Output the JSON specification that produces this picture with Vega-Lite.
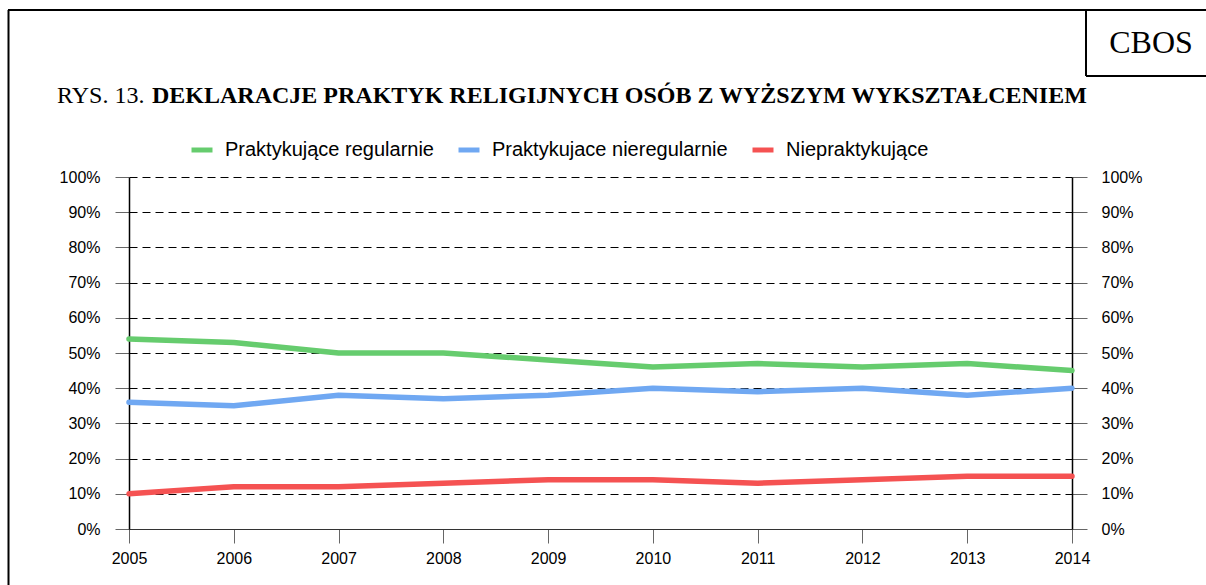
{
  "$schema": "https://vega.github.io/schema/vega-lite/v6.json",
  "width": 943,
  "height": 352,
  "autosize": {"type": "none"},
  "padding": {"left": 129, "top": 177, "right": 134, "bottom": 56},
  "background": "white",
  "config": {
    "view": {"stroke": null},
    "font": "Liberation Sans",
    "axis": {"labelFont": "Liberation Sans", "labelColor": "#000000"}
  },
  "datasets": {
    "series": [
      {"year": 2005, "series": "Praktykujące regularnie", "value": 54},
      {"year": 2006, "series": "Praktykujące regularnie", "value": 53},
      {"year": 2007, "series": "Praktykujące regularnie", "value": 50},
      {"year": 2008, "series": "Praktykujące regularnie", "value": 50},
      {"year": 2009, "series": "Praktykujące regularnie", "value": 48},
      {"year": 2010, "series": "Praktykujące regularnie", "value": 46},
      {"year": 2011, "series": "Praktykujące regularnie", "value": 47},
      {"year": 2012, "series": "Praktykujące regularnie", "value": 46},
      {"year": 2013, "series": "Praktykujące regularnie", "value": 47},
      {"year": 2014, "series": "Praktykujące regularnie", "value": 45},
      {"year": 2005, "series": "Praktykujace nieregularnie", "value": 36},
      {"year": 2006, "series": "Praktykujace nieregularnie", "value": 35},
      {"year": 2007, "series": "Praktykujace nieregularnie", "value": 38},
      {"year": 2008, "series": "Praktykujace nieregularnie", "value": 37},
      {"year": 2009, "series": "Praktykujace nieregularnie", "value": 38},
      {"year": 2010, "series": "Praktykujace nieregularnie", "value": 40},
      {"year": 2011, "series": "Praktykujace nieregularnie", "value": 39},
      {"year": 2012, "series": "Praktykujace nieregularnie", "value": 40},
      {"year": 2013, "series": "Praktykujace nieregularnie", "value": 38},
      {"year": 2014, "series": "Praktykujace nieregularnie", "value": 40},
      {"year": 2005, "series": "Niepraktykujące", "value": 10},
      {"year": 2006, "series": "Niepraktykujące", "value": 12},
      {"year": 2007, "series": "Niepraktykujące", "value": 12},
      {"year": 2008, "series": "Niepraktykujące", "value": 13},
      {"year": 2009, "series": "Niepraktykujące", "value": 14},
      {"year": 2010, "series": "Niepraktykujące", "value": 14},
      {"year": 2011, "series": "Niepraktykujące", "value": 13},
      {"year": 2012, "series": "Niepraktykujące", "value": 14},
      {"year": 2013, "series": "Niepraktykujące", "value": 15},
      {"year": 2014, "series": "Niepraktykujące", "value": 15}
    ]
  },
  "resolve": {"axis": {"y": "independent"}},
  "layer": [
    {
      "data": {"name": "series"},
      "mark": {"type": "line", "strokeWidth": 0, "opacity": 0},
      "encoding": {
        "x": {
          "field": "year", "type": "quantitative",
          "scale": {"domain": [2005, 2014], "nice": false, "zero": false},
          "axis": {
            "title": null, "values": [2005,2006,2007,2008,2009,2010,2011,2012,2013,2014],
            "format": "d", "labelFontSize": 16, "labelPadding": 7, "tickSize": 14,
            "tickColor": "#666666", "domainColor": "#333333", "grid": false, "labelFlush": false
          }
        },
        "y": {
          "field": "value", "type": "quantitative",
          "scale": {"domain": [0, 100], "nice": false},
          "axis": {
            "orient": "right", "title": null, "values": [0,10,20,30,40,50,60,70,80,90,100],
            "labelExpr": "datum.value + '%'", "labelFontSize": 16, "labelPadding": 14,
            "tickSize": 15, "tickColor": "#666666", "domainColor": "#000000", "domainWidth": 1.5,
            "grid": false
          }
        }
      }
    },
    {
      "data": {"name": "series"},
      "mark": {"type": "line", "strokeWidth": 5.5, "strokeCap": "round", "strokeJoin": "round"},
      "encoding": {
        "x": {
          "field": "year", "type": "quantitative",
          "scale": {"domain": [2005, 2014], "nice": false, "zero": false},
          "axis": {
            "title": null, "values": [2005,2006,2007,2008,2009,2010,2011,2012,2013,2014],
            "format": "d", "labelFontSize": 16, "labelPadding": 7, "tickSize": 14,
            "tickColor": "#666666", "domainColor": "#333333", "grid": false, "labelFlush": false
          }
        },
        "y": {
          "field": "value", "type": "quantitative",
          "scale": {"domain": [0, 100], "nice": false},
          "axis": {
            "orient": "left", "title": null, "values": [0,10,20,30,40,50,60,70,80,90,100],
            "labelExpr": "datum.value + '%'", "labelFontSize": 16, "labelPadding": 15,
            "tickSize": 14, "tickColor": "#666666", "domainColor": "#000000", "domainWidth": 1.5,
            "grid": true, "gridColor": "#000000", "gridDash": [8, 5], "gridOpacity": 1, "gridWidth": 1
          }
        },
        "color": {
          "field": "series", "type": "nominal",
          "scale": {
            "domain": ["Praktykujące regularnie", "Praktykujace nieregularnie", "Niepraktykujące"],
            "range": ["#66cc6e", "#70a8f2", "#f55252"]
          },
          "legend": {
            "title": null, "orient": "none", "direction": "horizontal",
            "legendX": 60, "legendY": -40,
            "symbolType": "stroke", "symbolStrokeWidth": 5, "symbolSize": 441,
            "labelFontSize": 20, "labelOffset": 10, "columnPadding": 14, "labelLimit": 0,
            "labelColor": "#000000", "labelFont": "Liberation Sans"
          }
        }
      }
    },
    {
      "data": {"values": [{}]},
      "mark": {"type": "text", "font": "Liberation Serif", "fontSize": 24, "align": "left", "baseline": "alphabetic", "color": "#000000"},
      "encoding": {
        "x": {"datum": 2004.313, "type": "quantitative"},
        "y": {"datum": 121.0, "type": "quantitative", "axis": null},
        "text": {"value": "RYS. 13."}
      }
    },
    {
      "data": {"values": [{}]},
      "mark": {"type": "text", "font": "Liberation Serif", "fontSize": 24, "fontWeight": "bold", "align": "left", "baseline": "alphabetic", "color": "#000000"},
      "encoding": {
        "x": {"datum": 2005.2195, "type": "quantitative"},
        "y": {"datum": 121.0, "type": "quantitative", "axis": null},
        "text": {"value": "DEKLARACJE PRAKTYK RELIGIJNYCH OSÓB Z WYŻSZYM WYKSZTAŁCENIEM"}
      }
    },
    {
      "data": {"values": [{}]},
      "mark": {"type": "text", "font": "Liberation Serif", "fontSize": 32, "align": "center", "baseline": "alphabetic", "color": "#000000"},
      "encoding": {
        "x": {"datum": 2014.754, "type": "quantitative"},
        "y": {"datum": 135.2, "type": "quantitative", "axis": null},
        "text": {"value": "CBOS"}
      }
    },
    {
      "data": {"values": [{}]},
      "mark": {"type": "rule", "color": "#000000", "strokeWidth": 2},
      "encoding": {
        "x": {"datum": 2003.85, "type": "quantitative"},
        "y": {"datum": 147.44, "type": "quantitative", "axis": null},
        "y2": {"datum": -25}
      }
    },
    {
      "data": {"values": [{}]},
      "mark": {"type": "rule", "color": "#000000", "strokeWidth": 2},
      "encoding": {
        "x": {"datum": 2003.845, "type": "quantitative"},
        "x2": {"datum": 2016},
        "y": {"datum": 147.44, "type": "quantitative", "axis": null}
      }
    },
    {
      "data": {"values": [{}]},
      "mark": {"type": "rule", "color": "#000000", "strokeWidth": 2},
      "encoding": {
        "x": {"datum": 2014.1336, "type": "quantitative"},
        "y": {"datum": 147.44, "type": "quantitative", "axis": null},
        "y2": {"datum": 128.69}
      }
    },
    {
      "data": {"values": [{}]},
      "mark": {"type": "rule", "color": "#000000", "strokeWidth": 2},
      "encoding": {
        "x": {"datum": 2014.1336, "type": "quantitative"},
        "x2": {"datum": 2016},
        "y": {"datum": 128.69, "type": "quantitative", "axis": null}
      }
    }
  ]
}
